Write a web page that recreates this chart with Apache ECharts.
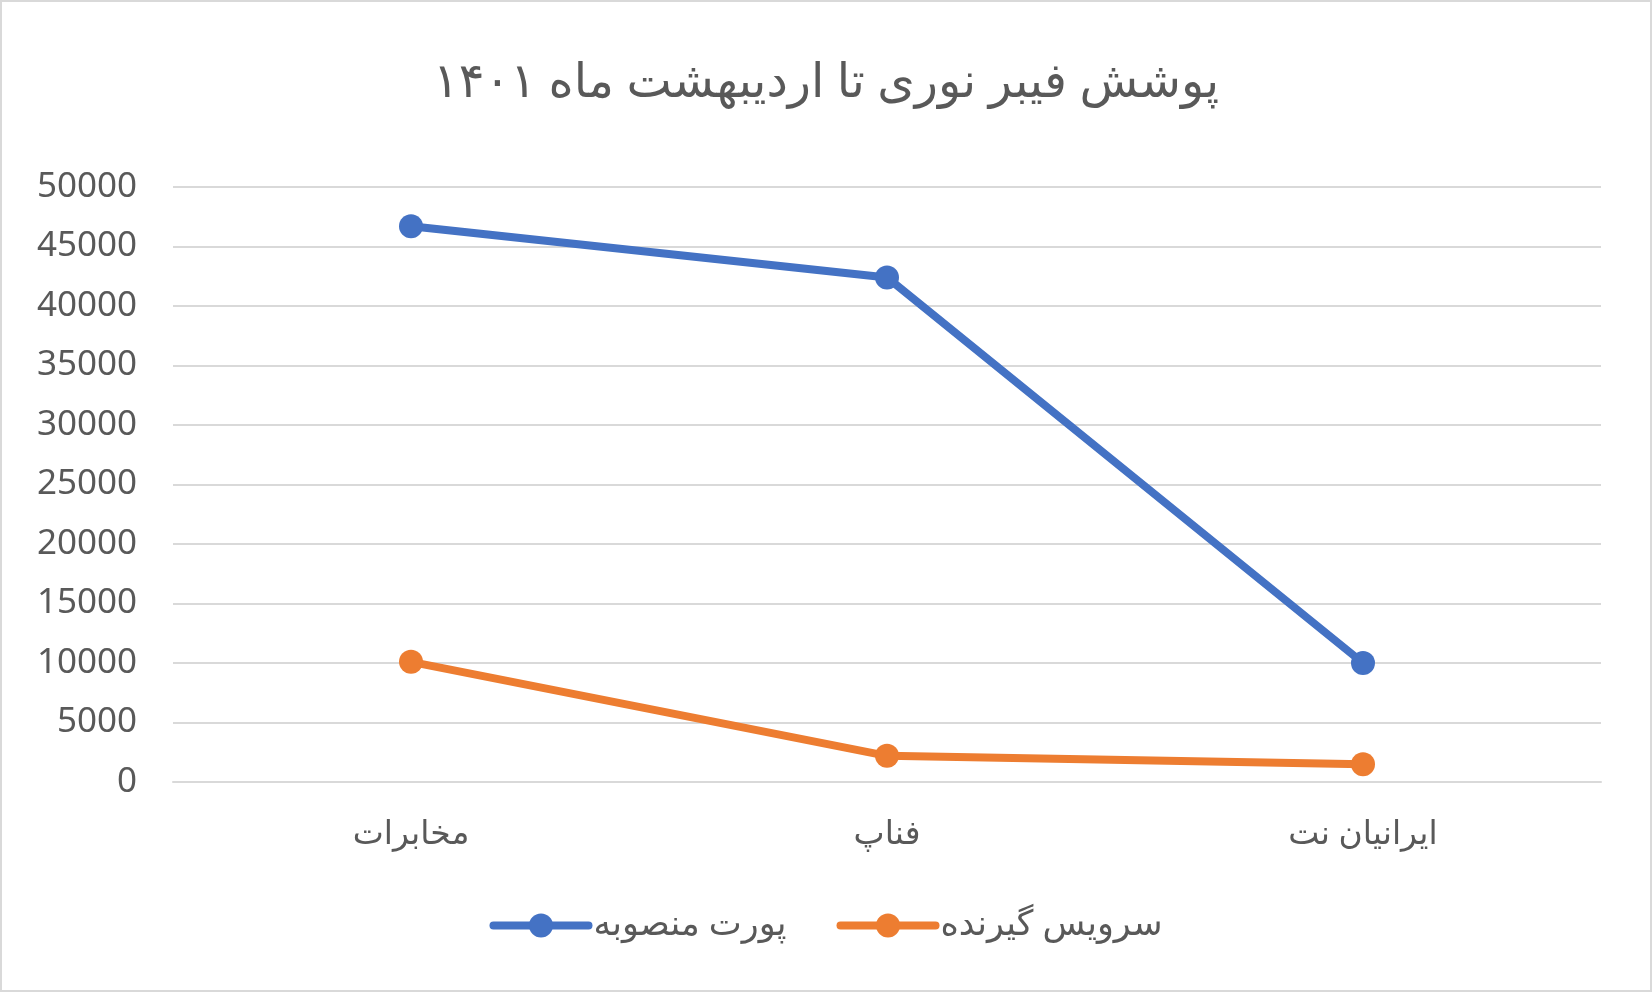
<!DOCTYPE html>
<html>
<head>
<meta charset="utf-8">
<script src="https://cdn.jsdelivr.net/npm/echarts@6/dist/echarts.min.js"></script>
<style>
  html, body { margin: 0; padding: 0; background: #fff; }
  #chart { width: 1652px; height: 992px; box-sizing: border-box; border: 2px solid #d9d9d9; }
</style>
</head>
<body>
<div id="chart"></div>
<script>
const titleText = 'پوشش فیبر نوری تا اردیبهشت ماه ۱۴۰۱';
const categories = ['مخابرات', 'فناپ', 'ایرانیان نت'];
const seriesNames = ['پورت منصوبه', 'سرویس گیرنده'];
const installedPorts = [46700, 42400, 10000];
const subscribers = [10100, 2200, 1500];
const yTicks = [0, 5000, 10000, 15000, 20000, 25000, 30000, 35000, 40000, 45000, 50000];

const font = '"Noto Sans", "DejaVu Sans", sans-serif';
const textColor = '#595959';

const myChart = echarts.init(document.getElementById('chart'));
myChart.setOption({
    title: {
        text: titleText,
        left: 'center',
        top: 52,
        textStyle: { fontFamily: font, fontSize: 48, fontWeight: 'normal', color: textColor }
    },
    grid: { left: 171, right: 49, top: 185, bottom: 208 },
    legend: {
        bottom: 42,
        left: 'center',
        itemWidth: 95,
        itemHeight: 30,
        itemGap: 50,
        lineStyle: { width: 8, cap: 'round' },
        textStyle: { fontFamily: font, fontSize: 35, color: textColor },
        data: seriesNames
    },
    xAxis: {
        type: 'category',
        data: categories,
        axisLine: { lineStyle: { color: '#d9d9d9', width: 2 } },
        axisTick: { show: false },
        axisLabel: { fontFamily: font, fontSize: 33, color: textColor, margin: 36 }
    },
    yAxis: {
        type: 'value',
        min: yTicks[0],
        max: yTicks[yTicks.length - 1],
        interval: 5000,
        axisLine: { show: false },
        axisTick: { show: false },
        axisLabel: { fontFamily: font, fontSize: 35, color: textColor, margin: 36, formatter: v => String(v) },
        splitLine: { lineStyle: { color: '#d9d9d9', width: 2 } }
    },
    series: [
        {
            name: seriesNames[0],
            type: 'line',
            data: installedPorts,
            symbol: 'circle',
            symbolSize: 24,
            lineStyle: { width: 8, color: '#4472c4', cap: 'round' },
            itemStyle: { color: '#4472c4' }
        },
        {
            name: seriesNames[1],
            type: 'line',
            data: subscribers,
            symbol: 'circle',
            symbolSize: 24,
            lineStyle: { width: 8, color: '#ed7d31', cap: 'round' },
            itemStyle: { color: '#ed7d31' }
        }
    ]
});
</script>
</body>
</html>
